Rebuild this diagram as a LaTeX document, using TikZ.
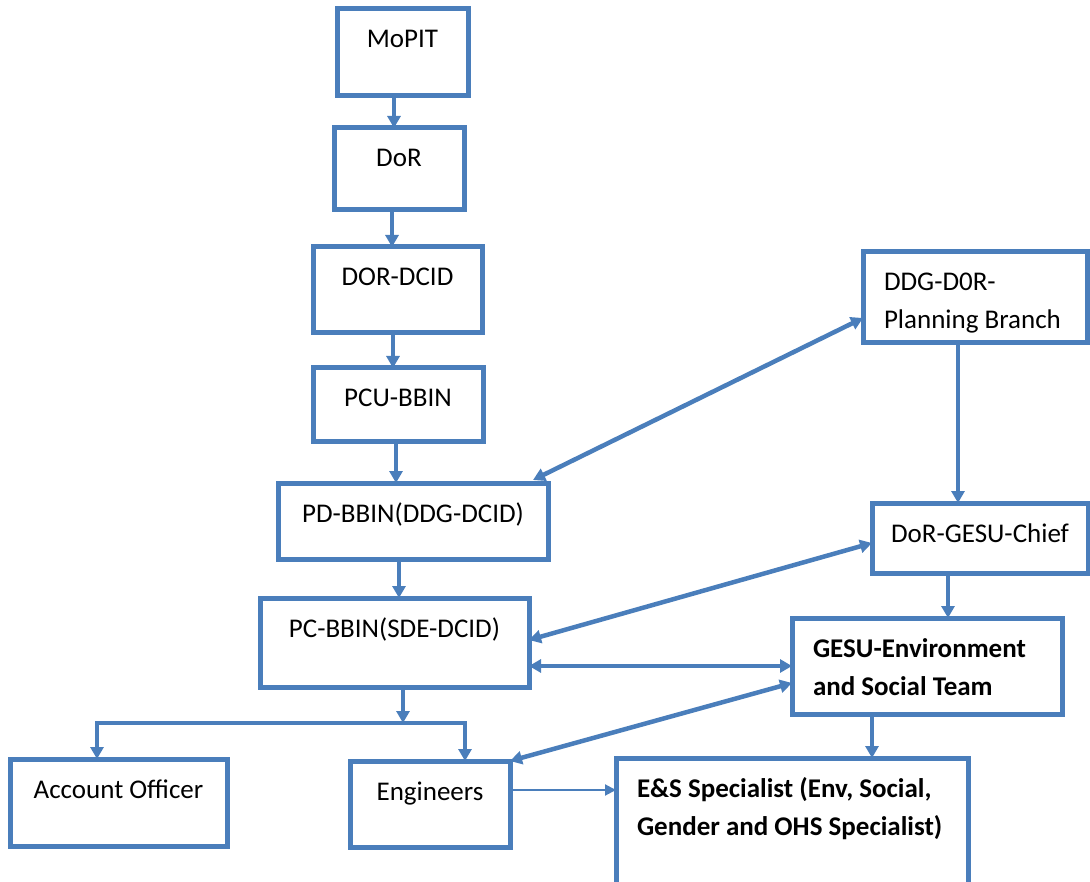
\documentclass[tikz,border=0pt]{standalone}
\usepackage{fontspec}
\setmainfont{Carlito}
\usetikzlibrary{arrows.meta,calc}
\definecolor{chartblue}{RGB}{74,126,187}

\begin{document}
\begin{tikzpicture}[x=1pt, y=-1pt, >={Triangle[length=12pt,width=13pt]},
    box/.style={draw=chartblue, line width=5pt, anchor=north west, inner sep=0pt, outer sep=0pt,
        font=\fontsize{27pt}{38pt}\selectfont, text height=39pt, align=flush center},
    lbox/.style={box, inner xsep=21pt, align=flush left},
    link/.style={draw=chartblue, line width=4.5pt, ->},
    dlink/.style={link, <->},
    thinlink/.style={draw=chartblue, line width=2pt, -{Triangle[length=11pt,width=11pt]}}]
    \useasboundingbox (0,0) rectangle (1090,882);

    % main chain
    \node[box, text width=131pt, text depth=48pt] (mopit) at (337,9) {MoPIT};
    \node[box, text width=130pt, text depth=43pt] (dor) at (334,128) {DoR};
    \node[box, text width=169pt, text depth=47pt] (dcid) at (313,247) {DOR-DCID};
    \node[box, text width=170pt, text depth=35pt] (pcu) at (313,368) {PCU-BBIN};
    \node[box, text width=270pt, text depth=37pt] (pd) at (278,483) {PD-BBIN(DDG-DCID)};
    \node[box, text width=269pt, text depth=50pt] (pc) at (260,598) {PC-BBIN(SDE-DCID)};
    \node[box, text width=217pt, text depth=48pt] (acc) at (10,759) {Account Officer};
    \node[box, text width=160pt, text depth=47pt] (eng) at (350,761) {Engineers};

    % GESU side
    \node[lbox, text width=182pt, text depth=52pt] (plan) at (863,252) {DDG-D0R-\\Planning Branch};
    \node[box, text width=216pt, text depth=31pt] (chief) at (872,503) {DoR-GESU-Chief};
    \node[lbox, text width=228pt, text depth=57pt, font=\fontsize{27pt}{38pt}\selectfont\bfseries] (gesu) at (792,618)
        {GESU-Environment\\and Social Team};
    \node[lbox, text width=310pt, text depth=89pt, font=\fontsize{27pt}{38pt}\selectfont\bfseries] (es) at (616,758)
        {E\&S Specialist (Env, Social,\\Gender and OHS Specialist)};

    \draw[link] ([xshift=-8.5pt]mopit.south) -- ([xshift=-8.5pt]mopit.south |- dor.north);
    \draw[link] ([xshift=-7pt]dor.south) -- ([xshift=-7pt]dor.south |- dcid.north);
    \draw[link] ([xshift=-4.5pt]dcid.south) -- ([xshift=-4.5pt]dcid.south |- pcu.north);
    \draw[link] ([xshift=-2pt]pcu.south) -- ([xshift=-2pt]pcu.south |- pd.north);
    \draw[link] ([xshift=-14pt]pd.south) -- ([xshift=-14pt]pd.south |- pc.north);

    \coordinate (split) at ([xshift=8.5pt,yshift=-36pt]pc.south);
    \draw[link] ([xshift=8.5pt]pc.south) -- (split);
    \draw[link] (split) -| ([xshift=-21.5pt]acc.north);
    \draw[link] (split) -| ([xshift=35pt]eng.north);

    \draw[link] ([xshift=-17pt]plan.south) -- ([xshift=-17pt]plan.south |- chief.north);
    \draw[link] ([xshift=-32pt]chief.south) -- ([xshift=-32pt]chief.south |- gesu.north);
    \draw[link] ([xshift=-55pt]gesu.south) -- ([xshift=-55pt]gesu.south |- es.north);

    % two way links
    \draw[dlink] ([xshift=-15pt,yshift=3pt]pd.north east) -- ([yshift=-20.5pt]plan.west);
    \draw[dlink] ([yshift=2.5pt]pc.east) -- ([yshift=-5pt]chief.west);
    \draw[dlink] (pc.east |- gesu.west) -- (gesu.west);
    \draw[dlink] (eng.north east) -- ([yshift=-17pt]gesu.west);
    \draw[thinlink] ([yshift=14pt]eng.east) -- ([yshift=14pt]eng.east -| es.west);
\end{tikzpicture}
\end{document}
